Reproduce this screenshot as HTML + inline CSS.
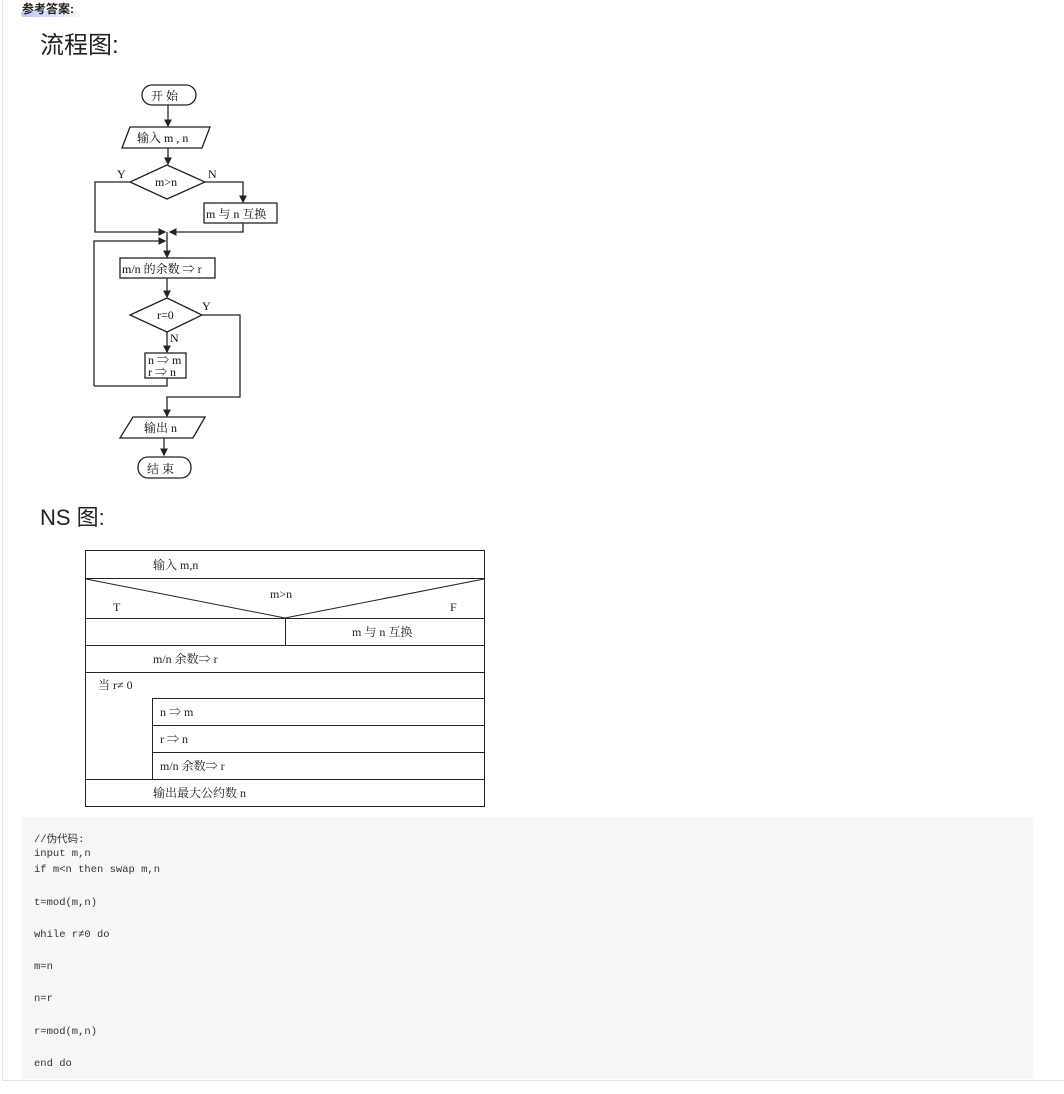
<!DOCTYPE html>
<html><head><meta charset="utf-8"><style>
body{margin:0;width:1064px;height:1094px;background:#fff;position:relative;overflow:hidden;font-family:"Liberation Sans","Noto Sans CJK SC",sans-serif;}
.a{position:absolute}
.code{position:absolute;left:22px;top:817px;width:1011px;height:262px;background:#f6f7f9;}
.code div{position:absolute;left:12px;font-family:"Liberation Mono","Noto Sans CJK SC",monospace;font-size:10.5px;color:#333;}
</style></head><body>
<div class="a" style="left:2px;top:0;width:1px;height:1080px;background:#e5e5e5"></div>
<div class="a" style="left:2px;top:1080px;width:1062px;height:1px;background:#e5e5e5"></div>
<div class="a" style="left:21px;top:11px;width:58px;height:6px;background:linear-gradient(90deg,#b8c4f5,rgba(220,225,250,0.2));border-radius:3px"></div>
<div class="a" style="left:22px;top:0px;font-size:12px;font-weight:bold;color:#222">参考答案:</div>
<div class="a" style="left:40px;top:25px;font-size:24px;color:#222">流程图:</div>
<div class="a" style="left:40px;top:500px;font-size:22px;color:#222">NS 图:</div>

<svg class="a" style="left:0;top:0" width="520" height="820" font-family="Liberation Serif,Noto Serif CJK SC,serif" font-size="12" fill="none" stroke="#222" stroke-width="1.3">
<defs><marker id="ar" markerWidth="6" markerHeight="6" refX="5" refY="3" orient="auto"><path d="M0,0L6,3L0,6z" fill="#222" stroke="none"/></marker></defs>
<rect x="142" y="85" width="54" height="20" rx="10"/>
<line x1="168" y1="105" x2="168" y2="126" marker-end="url(#ar)"/>
<polygon points="130,127 210,127 202,148 122,148"/>
<line x1="168" y1="148" x2="168" y2="164" marker-end="url(#ar)"/>
<polygon points="167,165 205,182 167,199 130,182"/>
<polyline points="130,182 95,182 95,232 165,232" marker-end="url(#ar)"/>
<polyline points="205,182 243,182 243,202" marker-end="url(#ar)"/>
<rect x="204" y="203" width="73" height="20"/>
<polyline points="243,223 243,232 170,232" marker-end="url(#ar)"/>
<polyline points="167,232 167,257" marker-end="url(#ar)"/>
<polyline points="94,386 94,241 165,241" marker-end="url(#ar)"/>
<rect x="120" y="258" width="95" height="20"/>
<line x1="167" y1="278" x2="167" y2="297" marker-end="url(#ar)"/>
<polygon points="167,298 202,315 167,332 130,315"/>
<line x1="167" y1="332" x2="167" y2="352" marker-end="url(#ar)"/>
<rect x="145" y="353" width="41" height="25"/>
<polyline points="167,378 167,386 94,386"/>
<polyline points="202,315 240,315 240,397 167,397 167,416" marker-end="url(#ar)"/>
<polygon points="133,417 205,417 193,438 120,438"/>
<line x1="164" y1="438" x2="164" y2="455" marker-end="url(#ar)"/>
<rect x="138" y="457" width="53" height="21" rx="10"/>
<g fill="#111" stroke="none">
<text x="151" y="100">开 始</text>
<text x="137" y="142">输入 m , n</text>
<text x="155" y="186">m&gt;n</text>
<text x="117" y="178">Y</text><text x="208" y="178">N</text>
<text x="206" y="218">m 与 n 互换</text>
<text x="122" y="273">m/n 的余数 ⇒ r</text>
<text x="157" y="319">r=0</text>
<text x="202" y="310">Y</text><text x="170" y="342">N</text>
<text x="148" y="364">n ⇒ m</text><text x="148" y="376">r ⇒ n</text>
<text x="144" y="432">输出 n</text>
<text x="147" y="473">结 束</text>
</g>
<g stroke-width="1">
<rect x="85.5" y="550.5" width="399" height="256"/>
<line x1="85" y1="578.5" x2="484" y2="578.5"/>
<polyline points="86,579 285,618 484,579"/>
<line x1="85" y1="618.5" x2="484" y2="618.5"/>
<line x1="285.5" y1="618" x2="285.5" y2="645"/>
<line x1="85" y1="645.5" x2="484" y2="645.5"/>
<line x1="85" y1="672.5" x2="484" y2="672.5"/>
<line x1="152.5" y1="698" x2="152.5" y2="779"/>
<line x1="152" y1="698.5" x2="484" y2="698.5"/>
<line x1="152" y1="725.5" x2="484" y2="725.5"/>
<line x1="152" y1="752.5" x2="484" y2="752.5"/>
<line x1="85" y1="779.5" x2="484" y2="779.5"/>
</g>
<g fill="#222" stroke="none" font-size="12">
<text x="153" y="569">输入 m,n</text>
<text x="270" y="598">m&gt;n</text>
<text x="113" y="611">T</text><text x="450" y="611">F</text>
<text x="352" y="636">m 与 n 互换</text>
<text x="153" y="663">m/n 余数⇒ r</text>
<text x="98" y="689">当 r≠ 0</text>
<text x="160" y="716">n ⇒ m</text>
<text x="160" y="743">r ⇒ n</text>
<text x="160" y="770">m/n 余数⇒ r</text>
<text x="153" y="797">输出最大公约数 n</text>
</g>
</svg>

<div class="code">
<div style="top:14px">//伪代码:</div>
<div style="top:31px">input m,n</div>
<div style="top:47px">if m&lt;n then swap m,n</div>
<div style="top:80px">t=mod(m,n)</div>
<div style="top:112px">while r≠0 do</div>
<div style="top:144px">m=n</div>
<div style="top:176px">n=r</div>
<div style="top:209px">r=mod(m,n)</div>
<div style="top:241px">end do</div>
</div>
</body></html>
